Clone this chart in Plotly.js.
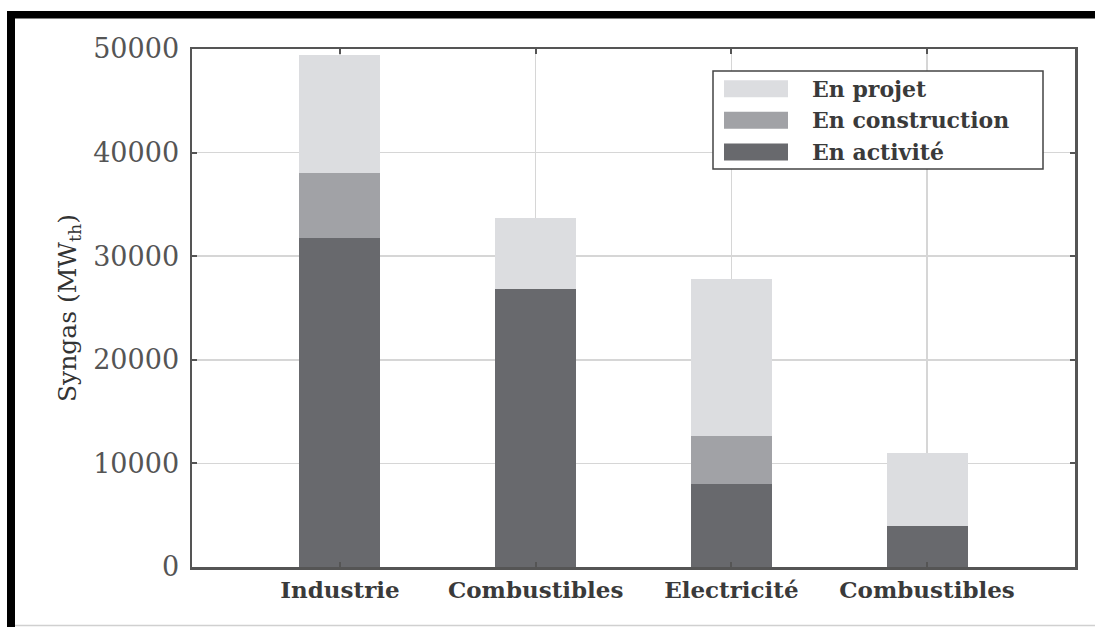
<!DOCTYPE html>
<html>
<head>
<meta charset="utf-8">
<script src="https://cdn.plot.ly/plotly-3.0.1.min.js"></script>
<style>html,body{margin:0;padding:0;background:#fff;}#chart{width:1095px;height:627px;}</style>
</head>
<body>
<div id="chart"></div>
<script>
// ---- data ----
const categories = ["Industrie", "Combustibles", "Electricité", "Combustibles"];
const enActivite = [31800, 26800, 8050, 3950];
const enConstruction = [6200, 0, 4600, 0];
const enProjet = [11450, 6900, 15150, 7050];
const seriesNames = ["En activité", "En construction", "En projet"];
const seriesColors = ["#68696d", "#a1a2a6", "#dcdde0"];
const yTicks = [0, 10000, 20000, 30000, 40000, 50000];

// ---- layout geometry ----
const W = 1095, H = 627;
const M = {l: 192, r: 20, t: 49, b: 60};
const pw = W - M.l - M.r, ph = H - M.t - M.b;
const px = x => (x - M.l) / pw;
const py = y => (H - M.b - y) / ph;

const xIdx = categories.map((c, i) => i);
const serif = "DejaVu Serif, Liberation Serif, serif";

const traces = [enActivite, enConstruction, enProjet].map((vals, k) => ({
  type: "bar",
  x: xIdx,
  y: vals,
  name: seriesNames[k],
  width: 0.414,
  marker: {color: seriesColors[k], line: {width: 0}},
  showlegend: false,
  hoverinfo: "x+y+name"
}));

// custom legend (order: projet, construction, activité)
const legendOrder = [2, 1, 0];
const rowCenters = [88.7, 120.3, 152];
const shapes = [];
const annotations = [];
shapes.push({type: "rect", xref: "paper", yref: "paper", x0: px(713), x1: px(1043), y0: py(71), y1: py(169),
  line: {color: "#444", width: 1.5}, fillcolor: "#fff", layer: "above"});
legendOrder.forEach((k, r) => {
  const cy = rowCenters[r];
  shapes.push({type: "rect", xref: "paper", yref: "paper", x0: px(724), x1: px(788), y0: py(cy - 8.5), y1: py(cy + 8.5),
    line: {width: 0}, fillcolor: seriesColors[k], layer: "above"});
  annotations.push({xref: "paper", yref: "paper", x: px(810), y: py(cy), xanchor: "left", yanchor: "middle",
    text: seriesNames[k], showarrow: false, font: {family: serif, size: 22, color: "#3a3a3a", weight: "bold"}});
});
// black frame of the picture
shapes.push({type: "rect", xref: "paper", yref: "paper", x0: px(7), x1: px(1095), y0: py(11), y1: py(18.5), line: {width: 0}, fillcolor: "#000", layer: "above"});
shapes.push({type: "rect", xref: "paper", yref: "paper", x0: px(7), x1: px(15), y0: py(11), y1: py(627), line: {width: 0}, fillcolor: "#000", layer: "above"});
shapes.push({type: "line", xref: "paper", yref: "paper", x0: px(15), x1: px(1095), y0: py(625.5), y1: py(625.5), line: {color: "#d0d0d0", width: 1.5}, layer: "above"});

const layout = {
  width: W, height: H,
  margin: M,
  paper_bgcolor: "#fff",
  plot_bgcolor: "#fff",
  barmode: "stack",
  showlegend: false,
  xaxis: {
    range: [-0.756, 3.756],
    tickvals: xIdx,
    ticktext: categories,
    showgrid: true, gridcolor: "#d6d6d6", gridwidth: 1.5,
    zeroline: false,
    showline: true, linecolor: "#555", linewidth: 2.5, mirror: "ticks",
    ticks: "inside", ticklen: 5, tickwidth: 2, tickcolor: "#555",
    tickfont: {family: serif, size: 23, color: "#3a3a3a", weight: "bold"},
    ticklabelstandoff: 1
  },
  yaxis: {
    range: [0, 50000],
    tickvals: yTicks,
    ticktext: yTicks.map(String),
    showgrid: true, gridcolor: "#d6d6d6", gridwidth: 1.5,
    zeroline: false,
    showline: true, linecolor: "#555", linewidth: 2.5, mirror: "ticks",
    ticks: "inside", ticklen: 5, tickwidth: 2, tickcolor: "#555",
    tickfont: {family: serif, size: 27, color: "#555"},
    ticklabelstandoff: 5,
    title: {text: "Syngas (MW<sub>th</sub>)", font: {family: serif, size: 25, color: "#333"}, standoff: 10}
  },
  shapes: shapes,
  annotations: annotations
};

Plotly.newPlot("chart", traces, layout, {displayModeBar: false, staticPlot: true});
</script>
</body>
</html>
